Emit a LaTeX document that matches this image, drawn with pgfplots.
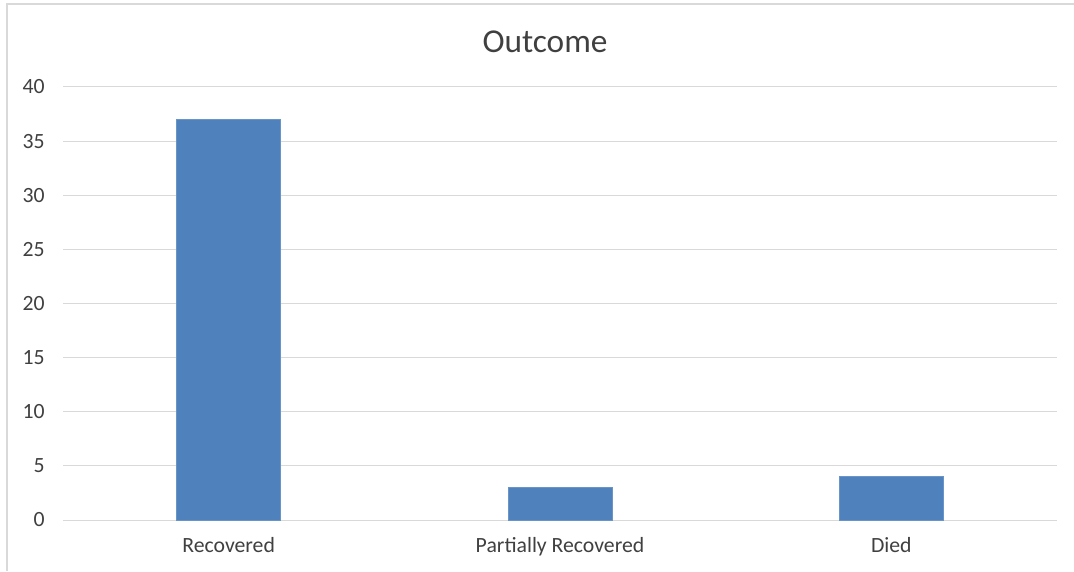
\documentclass[border=0pt]{standalone}
\usepackage{fontspec}
\setmainfont{Carlito}
\usepackage{pgfplots}
\pgfplotsset{compat=1.18}
\definecolor{barblue}{HTML}{4F81BD}
\definecolor{gridgray}{HTML}{D9D9D9}
\definecolor{framegray}{HTML}{D9D9D9}
\definecolor{textgray}{HTML}{404040}
\begin{document}
\begin{tikzpicture}
% overall canvas and chart frame
\useasboundingbox (-47.25pt,-38.25pt) rectangle (758.25pt,390pt);
\draw[framegray, line width=0.9pt] (758.25pt,387pt) -- (-42pt,387pt) -- (-42pt,-38.25pt);
\node[textgray, font=\fontsize{25pt}{28pt}\selectfont] at (361.5pt,358.5pt) {Outcome};
\begin{axis}[
  at={(0pt,0pt)}, anchor=south west,
  scale only axis,
  width=745.5pt, height=324.75pt,
  xmin=-0.5, xmax=2.5,
  ymin=0, ymax=40,
  ytick={0,5,...,40},
  xtick={0,1,2},
  xticklabels={Recovered, Partially Recovered, Died},
  axis line style={draw=none},
  major tick length=0pt,
  tick style={draw=none},
  ymajorgrids,
  grid style={gridgray, line width=0.75pt},
  /pgf/number format/assume math mode=true,
  tick label style={textgray, font=\fontsize{16.3pt}{18pt}\selectfont, inner sep=0pt},
  yticklabel style={anchor=east, xshift=-13.5pt},
  xticklabel style={anchor=base, yshift=-24pt},
  ybar, bar width=78pt,
  clip=false,
]
\addplot[fill=barblue, draw=barblue!85!white, line width=0.4pt] coordinates {(0,37) (1,3) (2,4)};
\end{axis}
\end{tikzpicture}
\end{document}
